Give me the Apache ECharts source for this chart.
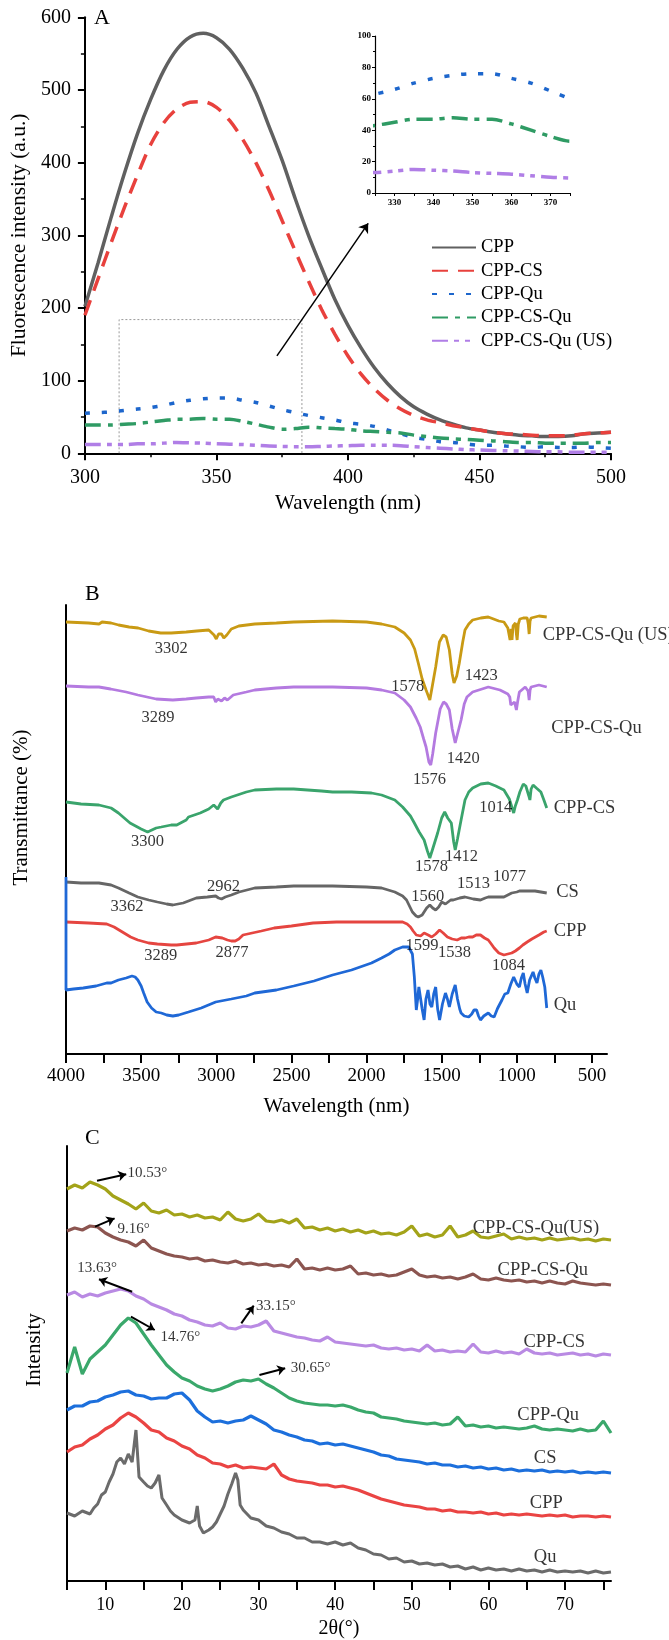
<!DOCTYPE html>
<html><head><meta charset="utf-8">
<script src="https://cdn.jsdelivr.net/npm/echarts@6/dist/echarts.min.js"></script>
<style>html,body{margin:0;padding:0;background:#fff}#c{width:669px;height:1640px}</style>
</head><body><div id="c"></div>
<script>
const FONT = 'Liberation Serif';
// ---------- Panel A : fluorescence ----------
const wavelengthA = [300,305,310,315,320,325,330,335,340,345,350,355,360,365,370,375,380,385,390,395,400,405,410,415,420,425,430,435,440,445,450,455,460,465,470,475,480,485,490,495,500];
const flCPP    = [202,262,325,385,440,487,527,556,573,578,572,556,530,496,450,403,350,300,255,212,176,145,118,96,78,64,54,46,40,35,32,29,27,25,24,23,23,24,27,28,29];
const flCPPCS  = [190,240,290,338,383,425,455,474,483,484,476,458,432,400,362,320,278,237,198,164,134,109,89,73,61,52,46,42,38,35,32,29,27,26,25,24,24,25,27,28,29];
const flCPPQu  = [55,56,57,59,61,63,66,70,73,75,76,76,73,70,65,60,56,52,49,46,42,40,37,32,27,22,19,16,15,13,11,11,10,9,8,9,8,8,9,8,7];
const flCPPCSQu = [39,39,39,40,41,43,45,47,47,48,47,47,44,40,36,33,34,36,35,34,33,31,30,29,28,25,23,21,20,19,18,17,16,15,15,14,14,14,14,15,15];
const flUS     = [12,12,12,12,13,13,14,15,14.5,14,13,12.5,12,11,10,9.5,9,9,9.5,10,10.5,11,11,11,10.5,9,8,7,6,5,4.5,4,3.5,3,2.5,2,2,1.5,1.5,1.5,1.5];
const namesA   = ['CPP','CPP-CS','CPP-Qu','CPP-CS-Qu','CPP-CS-Qu (US)'];
const zoomBox  = [[313,0],[313,184],[382.5,184],[382.5,0]];
const arrowA   = [[373,134],[407.7,316.5]];
const insetTicks  = [325,330,335,340,345,350,355,360,365,370,375];
const insetLabels = [330,340,350,360,370];
// ---------- Panel B : FTIR ----------
const ftirTicks  = [500,750,1000,1250,1500,1750,2000,2250,2500,2750,3000,3250,3500,3750,4000];
const ftirLabels = [500,1000,1500,2000,2500,3000,3500,4000];
const ftirUS = [[4000,432],[3850,431],[3780,430],[3760,432],[3700,431],[3650,429],[3580,427],[3520,426],[3450,423],[3370,421],[3300,421],[3200,422],[3130,423],[3050,424],[3015,419],[3000,415],[2985,420],[2965,420],[2950,416],[2930,419],[2900,425],[2850,428],[2744,430],[2600,431],[2485,432],[2226,433],[2000,432],[1900,430],[1812,427],[1750,421],[1708,414],[1680,405],[1656,391],[1630,375],[1604,364],[1579,354],[1560,370],[1540,387],[1515,412],[1490,419],[1470,417],[1449,404],[1430,380],[1418,371],[1400,378],[1384,390],[1360,412],[1345,424],[1320,430],[1294,434],[1240,436],[1190,437],[1120,433],[1086,432],[1060,426],[1050,424],[1045,414],[1038,425],[1032,414],[1025,428],[1009,431],[1003,420],[998,414],[990,430],[980,435],[957,436],[931,436],[924,430],[918,420],[912,433],[905,436],[853,438],[801,437]];
const ftirCSQu = [[4000,368],[3850,367],[3781,367],[3703,365],[3600,362],[3522,359],[3400,355],[3289,354],[3200,355],[3133,356],[3050,357],[3017,357],[3004,352],[2990,355],[2965,353],[2945,356],[2926,354],[2887,359],[2800,362],[2744,364],[2600,366],[2485,367],[2226,367],[2000,366],[1900,364],[1812,361],[1750,354],[1708,347],[1670,336],[1643,327],[1620,315],[1604,307],[1585,292],[1573,289],[1560,300],[1540,321],[1510,345],[1488,352],[1470,350],[1449,344],[1430,325],[1410,311],[1395,320],[1371,334],[1350,350],[1332,357],[1294,362],[1190,367],[1112,364],[1060,360],[1047,357],[1040,349],[1029,347],[1015,352],[1003,344],[995,352],[983,362],[944,367],[925,363],[918,354],[912,364],[905,367],[853,369],[801,367]];
const ftirCPPCS = [[4000,252],[3900,250],[3781,249],[3700,246],[3651,241],[3574,231],[3500,225],[3457,222],[3400,226],[3366,227],[3300,229],[3263,229],[3200,234],[3185,237],[3107,241],[3050,245],[3017,249],[2991,245],[2970,251],[2952,254],[2900,257],[2800,262],[2744,264],[2600,265],[2485,265],[2300,263],[2226,262],[2100,262],[1967,261],[1900,259],[1812,254],[1760,247],[1708,238],[1682,231],[1650,222],[1617,214],[1595,203],[1579,196],[1560,205],[1527,221],[1500,236],[1480,242],[1460,236],[1436,231],[1420,212],[1410,204],[1395,215],[1371,234],[1345,254],[1320,262],[1294,266],[1240,270],[1190,271],[1140,268],[1086,264],[1050,255],[1021,241],[1010,248],[996,254],[980,262],[957,270],[940,268],[931,266],[920,258],[913,254],[905,265],[892,269],[870,266],[840,262],[820,254],[801,246]];
const ftirCS = [[4000,172],[3900,171],[3781,171],[3700,169],[3651,166],[3580,161],[3522,157],[3450,154],[3392,152],[3330,150],[3289,149],[3220,151],[3133,156],[3060,157],[3004,158],[2985,156],[2965,155],[2940,157],[2900,159],[2848,162],[2744,166],[2600,167],[2485,168],[2226,168],[2000,167],[1900,166],[1812,162],[1760,158],[1734,154],[1695,142],[1670,138],[1656,137],[1630,139],[1617,141],[1600,146],[1579,149],[1560,146],[1540,144],[1520,147],[1500,152],[1488,154],[1475,150],[1462,151],[1440,154],[1423,154],[1380,156],[1345,157],[1290,155],[1242,154],[1210,156],[1190,157],[1140,157],[1086,157],[1060,159],[1034,161],[1000,162],[983,163],[930,163],[879,163],[840,162],[801,161]];
const ftirCPP = [[4000,132],[3850,131],[3729,130],[3680,127],[3625,122],[3570,117],[3522,114],[3450,111],[3392,110],[3300,109],[3263,109],[3133,111],[3050,114],[3004,117],[2960,116],[2926,114],[2900,113],[2874,113],[2850,115],[2822,119],[2700,123],[2615,126],[2500,128],[2356,131],[2200,132],[2097,132],[1900,132],[1760,132],[1730,130],[1708,127],[1690,123],[1669,119],[1640,118],[1617,121],[1590,119],[1566,117],[1540,120],[1514,124],[1490,121],[1462,117],[1430,115],[1397,114],[1370,116],[1345,116],[1320,117],[1294,117],[1270,119],[1242,119],[1215,116],[1190,114],[1170,110],[1151,106],[1120,101],[1086,99],[1060,100],[1034,101],[1010,103],[983,106],[960,109],[931,112],[900,115],[853,119],[820,122],[801,123]];
const ftirQu = [[4000,177],[4000,64],[3950,65],[3885,66],[3800,68],[3729,71],[3700,71],[3651,74],[3600,76],[3561,78],[3540,77],[3522,74],[3500,68],[3483,61],[3460,52],[3431,46],[3400,42],[3366,41],[3330,39],[3289,38],[3250,39],[3185,42],[3100,46],[3004,52],[2900,55],[2800,58],[2744,61],[2600,64],[2485,68],[2350,73],[2226,79],[2100,84],[1967,91],[1900,96],[1850,100],[1812,104],[1760,107],[1720,107],[1708,106],[1695,100],[1682,77],[1669,44],[1660,55],[1652,67],[1643,67],[1630,45],[1617,34],[1605,55],[1591,64],[1578,50],[1566,47],[1553,60],[1540,67],[1527,45],[1514,34],[1495,50],[1475,61],[1462,55],[1449,47],[1430,60],[1410,69],[1395,55],[1380,45],[1371,41],[1350,38],[1320,37],[1300,40],[1285,44],[1268,44],[1255,38],[1242,34],[1220,38],[1190,41],[1170,38],[1151,37],[1130,45],[1120,48],[1099,54],[1080,60],[1060,61],[1040,70],[1021,77],[1000,70],[983,67],[970,76],[957,81],[945,70],[931,61],[915,74],[892,82],[880,76],[866,71],[853,80],[840,84],[828,77],[814,67],[801,46]];
const ftirPeakText = [[3299,405,'3302'],[3387,336,'3289'],[1726,367,'1578'],[1237,378,'1423'],[1357,295,'1420'],[1581,274,'1576'],[1141,246,'1014'],[3457,212,'3300'],[1568,187,'1578'],[1369,197,'1412'],[2952,167,'2962'],[3594,147,'3362'],[1592,157,'1560'],[1289,170,'1513'],[1048,177,'1077'],[3369,98,'3289'],[2895,101,'2877'],[1631,108,'1599'],[1415,101,'1538'],[1056,88,'1084']];
const ftirNameText = [[828,419,'CPP-CS-Qu (US)'],[771,326,'CPP-CS-Qu'],[755,246,'CPP-CS'],[738,162,'CS'],[755,123,'CPP'],[755,49,'Qu']];
// ---------- Panel C : XRD ----------
const xrdTicks  = [5,10,15,20,25,30,35,40,45,50,55,60,65,70,75];
const xrdLabels = [10,20,30,40,50,60,70];
const twoTheta = [5,6,7,8,9,10,11,12,13,14,15,16,17,18,19,20,21,22,23,24,25,26,27,28,29,30,31,32,33,34,35,36,37,38,39,40,41,42,43,44,45,46,47,48,49,50,51,52,53,54,55,56,57,58,59,60,61,62,63,64,65,66,67,68,69,70,71,72,73,74,75,76];
const xrdUS = [392,396,393,399,396,392,385,381,377,372,378,370,368,371,366,367,364,366,363,364,361,369,362,360,362,367,360,359,361,358,362,353,354,351,353,350,352,349,351,348,350,347,348,346,349,355,345,347,344,346,355,344,346,350,344,343,345,347,342,344,342,343,341,343,341,342,343,341,342,340,342,341];
const xrdCSQu = [350,353,351,355,354,348,344,341,339,335,341,333,330,327,325,324,322,323,320,321,319,318,320,317,318,316,317,315,316,314,322,312,313,311,313,311,312,315,307,308,306,307,305,306,309,312,306,304,305,303,304,302,304,307,302,301,303,301,300,301,299,300,298,300,298,297,300,298,297,296,297,296];
const xrdCPPCS = [286,289,284,287,285,288,290,292,290,285,282,277,274,271,267,265,261,259,256,255,258,253,252,255,254,256,260,250,248,246,244,243,241,240,244,239,238,237,236,235,236,233,232,233,231,232,230,236,230,231,229,230,229,237,229,228,230,228,229,227,232,228,227,228,226,227,228,226,227,225,227,226];
const xrdCPPQu = [208,234,207,222,229,236,246,256,263,258,247,236,226,216,209,203,200,195,192,190,192,195,199,201,200,202,197,193,188,183,180,178,177,176,176,175,176,174,171,169,168,164,163,162,160,159,158,157,158,156,157,164,155,156,154,155,153,154,153,152,153,155,152,151,152,151,150,152,150,151,160,148];
const xrdCS = [171,175,175,179,180,184,186,189,190,186,185,182,183,183,187,188,181,170,164,159,160,158,160,161,165,161,157,151,149,146,144,141,140,137,138,136,137,135,133,131,129,126,125,122,121,120,119,117,118,116,116,114,115,113,114,112,113,111,112,110,111,110,111,109,110,109,110,108,109,108,109,108];
const xrdCPP = [129,134,136,142,146,152,156,163,168,164,158,151,149,143,140,135,132,126,123,118,117,114,116,113,114,113,112,117,106,102,100,99,98,96,96,94,95,93,91,88,85,82,80,78,76,75,74,72,72,70,71,69,69,68,69,67,68,66,67,66,67,66,65,66,65,66,64,65,65,64,65,64];
const xrdQu = [[5,68],[6,65],[7,70],[8,67],[8.5,73],[9,77],[9.5,86],[10,89],[10.5,99],[11,107],[11.5,119],[12,123],[12.5,117],[13,127],[13.5,119],[14,151],[14.4,104],[15,99],[15.5,95],[16,93],[16.5,98],[17,106],[17.4,83],[18,76],[18.5,70],[19,66],[20,61],[21,58],[21.7,61],[22,75],[22.3,55],[22.8,48],[23.5,51],[24,54],[24.5,59],[25,67],[25.5,75],[26,87],[26.5,97],[27,108],[27.3,101],[27.6,76],[28,71],[29,63],[30,61],[31,55],[32,53],[33,49],[34,47],[35,43],[36,43],[37,39],[38,39],[39,37],[40,39],[41,36],[42,38],[43,33],[44,31],[45,27],[46,26],[47,22],[48,23],[49,19],[50,20],[51,17],[52,18],[53,16],[54,17],[55,14],[56,15],[57,12],[58,14],[59,11],[60,13],[61,11],[62,12],[63,10],[64,12],[65,10],[66,11],[67,9],[68,11],[69,9],[70,10],[71,9],[72,10],[73,8],[74,10],[75,8],[76,9]];
const xrdArrows = [[[8.92,400.3],[12.73,406.7]],[[8.66,354.3],[11.21,362.7]],[[13.5,289.3],[9.17,301.7]],[[27.75,257.7],[29.37,275.3]],[[13.34,264.3],[16.45,251]],[[30.12,206],[33.48,212.7]]];
const xrdNoteLeft = [[12.9,407.7,'10.53°'],[11.6,351.7,'9.16°'],[29.67,275.3,'33.15°'],[17.2,244.3,'14.76°'],[34.2,212.7,'30.65°']];
const xrdNoteMid = [[8.92,312.7,'13.63°']];
const xrdNameText = [[66.2,352.7,'CPP-CS-Qu(US)'],[67.1,311,'CPP-CS-Qu'],[68.6,239.3,'CPP-CS'],[67.8,166,'CPP-Qu'],[67.4,122.7,'CS'],[67.55,78.3,'CPP'],[67.4,24.3,'Qu']];

// ---------- styles ----------
const colA = ['#606060','#e8413d','#1d66cc','#2f9b64','#b07ee6'];
const dashA = ['solid',[16,10],[5,12],[16,7,5,7],[16,6,5,6,5,6]];
const arrA = [flCPP,flCPPCS,flCPPQu,flCPPCSQu,flUS];
const txt = (s, extra) => Object.assign({fontFamily:FONT, color:'#000', fontSize:s}, extra||{});
const blackLine = (w) => ({show:true, lineStyle:{color:'#000', width:w}});
const pairs = (xs, ys) => xs.map((x,i)=>[x, ys[i]]);
const plain = v => String(v);

const series = [];
namesA.forEach((n,i)=>{
  series.push({name:n, type:'line', xAxisIndex:0, yAxisIndex:0, symbol:'none', showSymbol:false, smooth:0.3,
    data:pairs(wavelengthA, arrA[i]), lineStyle:{color:colA[i], width:3.5, type:dashA[i]}, itemStyle:{color:colA[i]}, z:3});
});
[2,3,4].forEach(i=>{
  series.push({name:namesA[i], type:'line', xAxisIndex:1, yAxisIndex:1, symbol:'none', smooth:0.3,
    data:pairs(wavelengthA, arrA[i]), lineStyle:{color:colA[i], width:3.5, type:dashA[i]}, itemStyle:{color:colA[i]}});
});
series.push({name:'box', type:'line', xAxisIndex:0, yAxisIndex:0, symbol:'none', data:zoomBox,
  lineStyle:{color:'#9a9a9a', width:1, type:[2,2]}, z:2, silent:true,
  markLine:{silent:true, symbol:['none','arrow'], symbolSize:9, animation:false, label:{show:false},
    lineStyle:{color:'#000', width:1.5, type:'solid'}, emphasis:{disabled:true},
    data:[[{coord:arrowA[0]},{coord:arrowA[1]}]]}});

const ftirSets = [[ftirUS,'#c99a14'],[ftirCSQu,'#b47ae0'],[ftirCPPCS,'#3aa46c'],[ftirCS,'#666666'],[ftirCPP,'#e54540'],[ftirQu,'#1f68d6']];
ftirSets.forEach((s,i)=>{
  series.push({name:'ftir'+i, type:'line', xAxisIndex:2, yAxisIndex:2, symbol:'none', data:s[0],
    lineStyle:{color:s[1], width:2.8}, z:3});
});
series.push({name:'ftirPeaks', type:'scatter', xAxisIndex:2, yAxisIndex:2, symbolSize:0, silent:true,
  data:ftirPeakText.map(d=>({value:[d[0],d[1]], name:d[2]})),
  label:{show:true, position:'inside', formatter:p=>p.name, ...txt(16.5)}, z:5});
series.push({name:'ftirNames', type:'scatter', xAxisIndex:2, yAxisIndex:2, symbolSize:0, silent:true,
  data:ftirNameText.map(d=>({value:[d[0],d[1]], name:d[2]})),
  label:{show:true, position:'right', distance:0, formatter:p=>p.name, ...txt(18.5)}, z:5});

const xrdSets = [[xrdUS,'#a3a319'],[xrdCSQu,'#8c5550'],[xrdCPPCS,'#b98ae3'],[xrdCPPQu,'#3aa86b'],[xrdCS,'#1c6fdc'],[xrdCPP,'#ea4443']];
xrdSets.forEach((s,i)=>{
  series.push({name:'xrd'+i, type:'line', xAxisIndex:3, yAxisIndex:3, symbol:'none', data:pairs(twoTheta, s[0]),
    lineStyle:{color:s[1], width:3.2}, z:3});
});
series.push({name:'xrdQu', type:'line', xAxisIndex:3, yAxisIndex:3, symbol:'none', data:xrdQu,
  lineStyle:{color:'#6b6b6b', width:3}, z:3});
series.push({name:'xrdNotesL', type:'scatter', xAxisIndex:3, yAxisIndex:3, symbolSize:0, silent:true,
  data:xrdNoteLeft.map(d=>({value:[d[0],d[1]], name:d[2]})),
  label:{show:true, position:'right', distance:0, formatter:p=>p.name, ...txt(15)}, z:5,
  markLine:{silent:true, symbol:['none','arrow'], symbolSize:8, animation:false, label:{show:false},
    lineStyle:{color:'#000', width:2, type:'solid'}, emphasis:{disabled:true},
    data:xrdArrows.map(a=>[{coord:a[0]},{coord:a[1]}])}});
series.push({name:'xrdNotesM', type:'scatter', xAxisIndex:3, yAxisIndex:3, symbolSize:0, silent:true,
  data:xrdNoteMid.map(d=>({value:[d[0],d[1]], name:d[2]})),
  label:{show:true, position:'inside', formatter:p=>p.name, ...txt(15)}, z:5});
series.push({name:'xrdNames', type:'scatter', xAxisIndex:3, yAxisIndex:3, symbolSize:0, silent:true,
  data:xrdNameText.map(d=>({value:[d[0],d[1]], name:d[2]})),
  label:{show:true, position:'inside', formatter:p=>p.name, ...txt(18.5)}, z:5});

const option = {
  animation:false,
  backgroundColor:'#fff',
  title:[
    {text:'A', left:94, top:7, padding:0, textStyle:txt(22,{fontWeight:'normal'})},
    {text:'B', left:85, top:583, padding:0, textStyle:txt(22,{fontWeight:'normal'})},
    {text:'C', left:85, top:1127, padding:0, textStyle:txt(22,{fontWeight:'normal'})}
  ],
  legend:{data:namesA.map(n=>({name:n, itemStyle:{opacity:0}})), left:426, top:233, orient:'vertical',
    itemWidth:44, itemHeight:12, itemGap:4.3, selectedMode:false, textStyle:txt(18.5),
    itemStyle:{opacity:0}},
  grid:[
    {left:68, top:17.3, width:543, height:436},
    {left:375, top:36, width:195, height:157},
    {left:66, top:605, width:541, height:449},
    {left:67, top:1146, width:544, height:435}
  ],
  xAxis:[
    {gridIndex:0, type:'value', min:300, max:500, interval:50, axisLine:blackLine(2),
      axisTick:{length:7, lineStyle:{color:'#000', width:2}},
      minorTick:{show:true, splitNumber:2, length:4, lineStyle:{color:'#000', width:1.5}},
      splitLine:{show:false}, axisLabel:txt(20,{margin:14, formatter:plain}),
      name:'Wavelength (nm)', nameLocation:'middle', nameGap:40, nameTextStyle:txt(21)},
    {gridIndex:1, type:'value', min:325, max:375, axisLine:blackLine(1.2),
      axisTick:{length:3, customValues:insetTicks, lineStyle:{color:'#000', width:1}},
      splitLine:{show:false}, axisLabel:txt(9,{fontWeight:'bold', margin:5, customValues:insetLabels, formatter:plain})},
    {gridIndex:2, type:'value', min:400, max:4000, inverse:true, axisLine:blackLine(2),
      axisTick:{length:9, customValues:ftirTicks, lineStyle:{color:'#000', width:2}},
      splitLine:{show:false}, axisLabel:txt(19,{margin:13, customValues:ftirLabels, formatter:plain}),
      name:'Wavelength (nm)', nameLocation:'middle', nameGap:42, nameTextStyle:txt(21)},
    {gridIndex:3, type:'value', min:5, max:76, axisLine:blackLine(2),
      axisTick:{length:9, customValues:xrdTicks, lineStyle:{color:'#000', width:2}},
      splitLine:{show:false}, axisLabel:txt(18,{margin:15, customValues:xrdLabels, formatter:plain}),
      name:'2θ(°)', nameLocation:'middle', nameGap:38, nameTextStyle:txt(20)}
  ],
  yAxis:[
    {gridIndex:0, type:'value', min:0, max:600, interval:100, axisLine:blackLine(2),
      axisTick:{length:7, lineStyle:{color:'#000', width:2}},
      minorTick:{show:true, splitNumber:2, length:4, lineStyle:{color:'#000', width:1.5}},
      splitLine:{show:false}, axisLabel:txt(20,{margin:14, formatter:plain}),
      name:'Fluorescence intensity (a.u.)', nameLocation:'middle', nameRotate:90, nameGap:47, nameTextStyle:txt(21.5)},
    {gridIndex:1, type:'value', min:0, max:100, interval:20, axisLine:blackLine(1.2),
      axisTick:{length:3, lineStyle:{color:'#000', width:1}},
      minorTick:{show:true, splitNumber:2, length:2, lineStyle:{color:'#000', width:1}},
      splitLine:{show:false}, axisLabel:txt(9,{fontWeight:'bold', margin:4, formatter:plain})},
    {gridIndex:2, type:'value', min:0, max:449, axisLine:blackLine(2), axisTick:{show:false},
      axisLabel:{show:false}, splitLine:{show:false},
      name:'Transmittance (%)', nameLocation:'middle', nameRotate:90, nameGap:34,
      nameTextStyle:txt(21,{padding:[0,0,0,44]})},
    {gridIndex:3, type:'value', min:0, max:435, axisLine:blackLine(2), axisTick:{show:false},
      axisLabel:{show:false}, splitLine:{show:false},
      name:'Intensity', nameLocation:'middle', nameRotate:90, nameGap:22,
      nameTextStyle:txt(21,{padding:[0,0,0,27]})}
  ],
  series:series
};
const chart = echarts.init(document.getElementById('c'), null, {renderer:'canvas', width:669, height:1640});
chart.setOption(option);
</script>
</body></html>
